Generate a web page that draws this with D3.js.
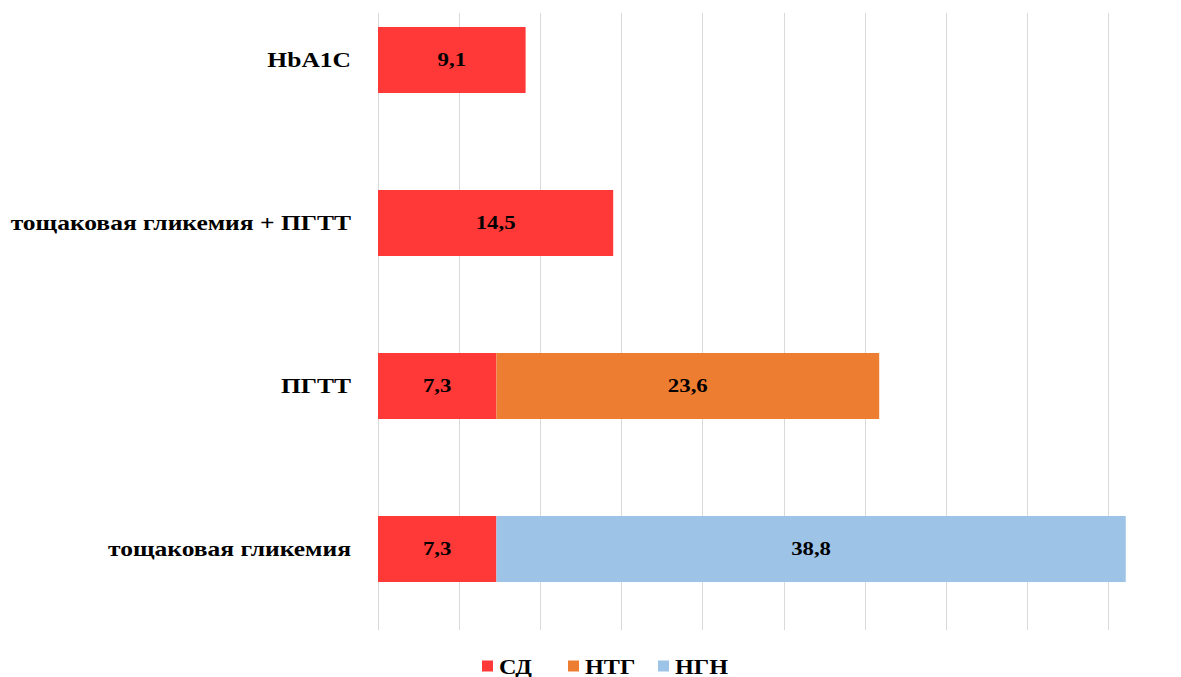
<!DOCTYPE html>
<html>
<head>
<meta charset="utf-8">
<script src="https://cdn.jsdelivr.net/npm/d3@7"></script>
<style>
  html, body { margin: 0; padding: 0; background: #fff; }
  svg { display: block; }
  text { font-family: "Liberation Serif", "Times New Roman", serif; font-weight: bold; fill: #000; }
</style>
</head>
<body>
<svg id="chart" width="1181" height="677"></svg>
<script>
// Categories (top to bottom) and stacked series values, %
const categories = ["HbA1C", "тощаковая гликемия + ПГТТ", "ПГТТ", "тощаковая гликемия"];
const seriesNames = ["СД", "НТГ", "НГН"];
const sdValues  = [9.1, 14.5, 7.3, 7.3];
const ntgValues = [0, 0, 23.6, 0];
const ngnValues = [0, 0, 0, 38.8];
const gridTicks = [0, 5, 10, 15, 20, 25, 30, 35, 40, 45];
const colors = ["#FF3838", "#ED7D31", "#9DC3E6"];

const rows = categories.map((c, i) => ({
  cat: c, "СД": sdValues[i], "НТГ": ntgValues[i], "НГН": ngnValues[i]
}));

const svg = d3.select("#chart");
const x0 = 378, unit = 16.22;
const x = d3.scaleLinear().domain([0, 50]).range([x0, x0 + 50 * unit]);
const y = d3.scaleBand().domain(categories).range([-21.5, 630.5])
  .paddingInner(0.595).paddingOuter(0.2975);

const gridTop = 13, gridBottom = 630;

// Vertical gridlines
svg.append("g").selectAll("line").data(gridTicks).join("line")
  .attr("x1", d => Math.round(x(d)) + 0.5).attr("x2", d => Math.round(x(d)) + 0.5)
  .attr("y1", gridTop).attr("y2", gridBottom)
  .attr("stroke", "#D9D9D9").attr("stroke-width", 1);

// Stacked bars
const stack = d3.stack().keys(seriesNames)(rows);
const color = d3.scaleOrdinal().domain(seriesNames).range(colors);

const layers = svg.append("g").selectAll("g").data(stack).join("g")
  .attr("fill", d => color(d.key));
layers.selectAll("rect").data(d => d.filter(p => p[1] - p[0] > 0).map(p => ({p, key: d.key})))
  .join("rect")
  .attr("x", d => x(d.p[0]))
  .attr("width", d => x(d.p[1]) - x(d.p[0]))
  .attr("y", d => y(d.p.data.cat))
  .attr("height", y.bandwidth());

// Value labels
const fmt = v => String(v).replace(".", ",");
const valSize = 19, valScale = 1.2;
layers.selectAll("text").data(d => d.filter(p => p[1] - p[0] > 0).map(p => ({p, key: d.key})))
  .join("text")
  .attr("transform", d => `translate(${(x(d.p[0]) + x(d.p[1])) / 2},${y(d.p.data.cat) + y.bandwidth() / 2}) scale(${valScale},1)`)
  .attr("text-anchor", "middle").attr("dominant-baseline", "central")
  .attr("font-size", valSize)
  .style("fill", "#000")
  .text(d => fmt(+(d.p[1] - d.p[0]).toFixed(1)));

// Category labels
const catSize = 22, catScale = 1.16;
svg.append("g").selectAll("text").data(categories).join("text")
  .attr("transform", d => `translate(351,${y(d) + y.bandwidth() / 2}) scale(${catScale},1)`)
  .attr("text-anchor", "end").attr("dominant-baseline", "central")
  .attr("font-size", catSize)
  .text(d => d);

// Legend
const legendX = [482, 568, 658];
const lg = svg.append("g").selectAll("g").data(seriesNames).join("g")
  .attr("transform", (d, i) => `translate(${legendX[i]},666)`);
lg.append("rect").attr("x", 0).attr("y", -5.5).attr("width", 11).attr("height", 11)
  .attr("fill", d => color(d));
lg.append("text").attr("transform", "translate(17,0) scale(1.1,1)")
  .attr("dominant-baseline", "central").attr("font-size", 22)
  .text(d => d);
</script>
</body>
</html>
